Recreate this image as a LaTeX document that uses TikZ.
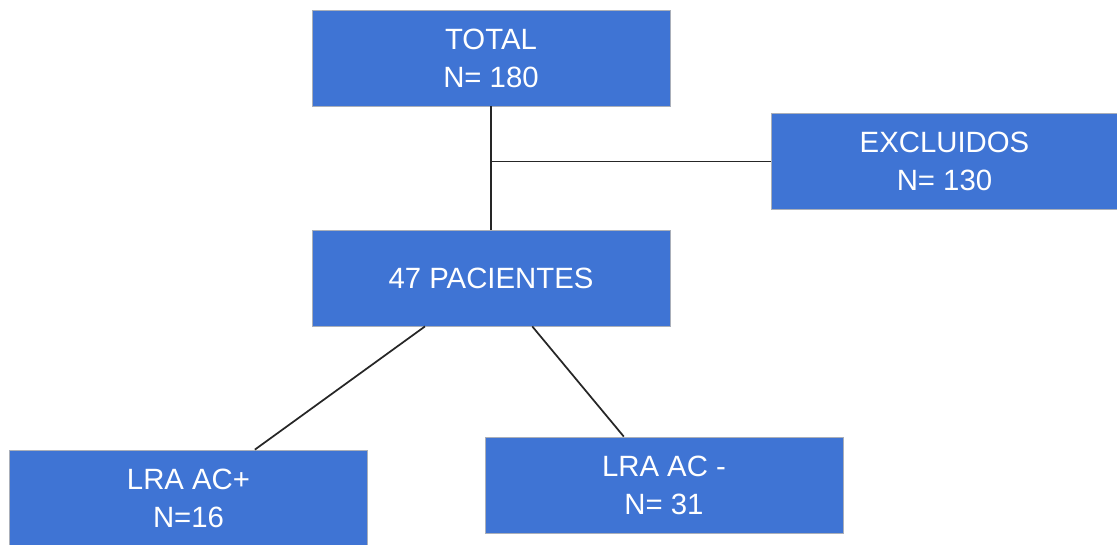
\documentclass[tikz,border=0pt]{standalone}
\usepackage{fontspec}
\setmainfont{Liberation Sans}
\usetikzlibrary{calc}
\definecolor{boxblue}{RGB}{63,116,212}
\definecolor{boxedge}{RGB}{170,175,185}

\begin{document}
\begin{tikzpicture}[x=0.75pt,y=0.75pt,yscale=-1,xscale=1,
  caja/.style={draw=boxedge,line width=0.6pt,fill=boxblue,text=white,
    minimum width=268.5pt,minimum height=72pt,inner sep=0pt,align=center,
    font=\fontsize{22}{28.5}\selectfont},
  linea/.style={draw=black!85,line width=1.3pt}]
\clip (0,0) rectangle (1117,544);
\useasboundingbox (0,0) rectangle (1117,544);
\fill[white] (0,0) rectangle (1117,544);
\node[caja] (total) at (491,58) {TOTAL\\N= 180};
\node[caja,minimum width=260pt] (excl) at (944.5,161.5) {EXCLUIDOS\\N= 130};
\node[caja] (pac) at (491,278) {47 PACIENTES};
\node[caja] (pos) at (188.5,498) {LRA AC+\\N=16};
\node[caja] (neg) at (664,485) {LRA AC -\\N= 31};
\draw[linea] (total.south) -- (pac.north);
\draw[linea] (total.south |- excl.west) -- (excl.west);
\draw[linea] ($(pac.south west)!0.316!(pac.south east)$) -- ($(pos.north west)!0.685!(pos.north east)$);
\draw[linea] ($(pac.south west)!0.615!(pac.south east)$) -- ($(neg.north west)!0.388!(neg.north east)$);
\end{tikzpicture}
\end{document}
